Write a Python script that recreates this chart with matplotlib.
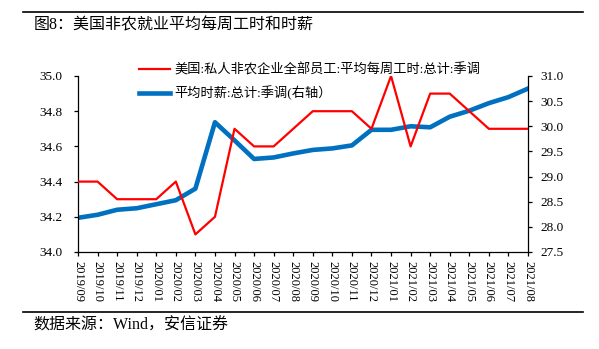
import matplotlib
matplotlib.use("Agg")
import matplotlib.pyplot as plt
import numpy as np

plt.rcParams['font.family'] = ['Liberation Serif', 'Noto Sans CJK SC', 'DejaVu Sans']

months = ["2019/09", "2019/10", "2019/11", "2019/12", "2020/01", "2020/02", "2020/03",
          "2020/04", "2020/05", "2020/06", "2020/07", "2020/08", "2020/09", "2020/10",
          "2020/11", "2020/12", "2021/01", "2021/02", "2021/03", "2021/04", "2021/05",
          "2021/06", "2021/07", "2021/08"]
weekly_hours = [34.4, 34.4, 34.3, 34.3, 34.3, 34.4, 34.1, 34.2, 34.7, 34.6, 34.6, 34.7,
                34.8, 34.8, 34.8, 34.7, 35.0, 34.6, 34.9, 34.9, 34.8, 34.7, 34.7, 34.7]
hourly_wage = [28.18, 28.24, 28.34, 28.37, 28.45, 28.53, 28.76, 30.08, 29.72, 29.35,
               29.38, 29.46, 29.53, 29.56, 29.62, 29.93, 29.93, 30.00, 29.98, 30.19,
               30.31, 30.46, 30.58, 30.75]
label_hours = "美国:私人非农企业全部员工:平均每周工时:总计:季调"
label_wage = "平均时薪:总计:季调(右轴）"
title = "图8：美国非农就业平均每周工时和时薪"
source = "数据来源：Wind，安信证券"

W, H = 599, 349
fig = plt.figure(figsize=(W / 100, H / 100), dpi=100)
ax = fig.add_axes([78 / W, 1 - 252 / H, (528 - 78) / W, (252 - 76) / H])
ax2 = ax.twinx()

x = np.arange(len(months))
l1, = ax.plot(x, weekly_hours, color='#ff0000', lw=1.6, zorder=3)
l2, = ax2.plot(x, hourly_wage, color='#0070c0', lw=3.3, zorder=2)
ax.set_zorder(ax2.get_zorder() + 1)
ax.patch.set_visible(False)

ax.set_xlim(0, len(months) - 1)
ax.set_ylim(34.0, 35.0)
ax.set_yticks(np.arange(34.0, 35.01, 0.2))
ax.set_yticklabels([f"{v:.1f}" for v in np.arange(34.0, 35.01, 0.2)])
ax2.set_ylim(27.5, 31.0)
ax2.set_yticks(np.arange(27.5, 31.01, 0.5))
ax2.set_yticklabels([f"{v:.1f}" for v in np.arange(27.5, 31.01, 0.5)])
ax.set_xticks(x)
ax.set_xticklabels(months, rotation=270, fontsize=9)

for a in (ax, ax2):
    a.spines['top'].set_visible(False)
    for s in a.spines.values():
        s.set_linewidth(0.9)
        s.set_color('black')
ax.spines['right'].set_visible(False)
ax2.spines['left'].set_visible(False)
ax2.spines['bottom'].set_visible(False)

ax.tick_params(axis='y', direction='out', length=3, width=0.9, pad=8, labelsize=9.5)
ax.tick_params(axis='x', direction='out', length=3, width=0.9, pad=3.5, labelsize=9)
ax2.tick_params(axis='y', direction='out', length=3, width=0.9, pad=6, labelsize=9.5)

fig.legend([l1, l2], [label_hours, label_wage], loc='upper left',
           bbox_to_anchor=(139 / W, 1 - 63 / H), frameon=False, fontsize=9.5,
           handlelength=2.35, handletextpad=0.3, labelspacing=0.72,
           borderpad=0, borderaxespad=0)

fig.add_artist(plt.Line2D([23 / W, 583 / W], [1 - 12 / H, 1 - 12 / H], color='black', lw=1.2))
fig.add_artist(plt.Line2D([23 / W, 583 / W], [1 - 312 / H, 1 - 312 / H], color='black', lw=1.2))
fig.text(34 / W, 1 - 25 / H, title, fontsize=11.5, va='center', ha='left')
fig.text(33 / W, 1 - 326 / H, source, fontsize=11.5, va='center', ha='left')

fig.savefig("out.png", dpi=100)
